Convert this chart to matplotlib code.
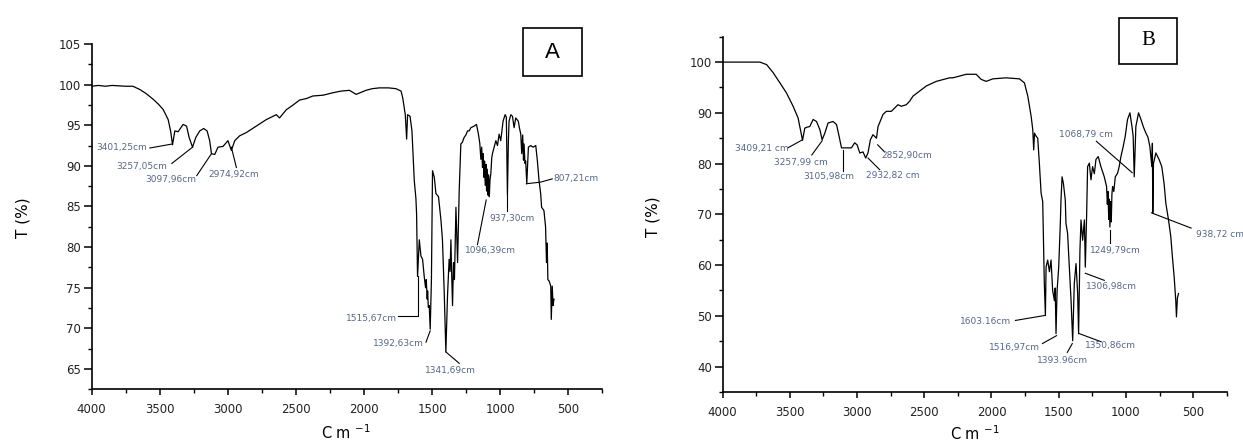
# FT-IR spectra, panels A and B
import numpy as np
import matplotlib.pyplot as plt
from matplotlib.ticker import MultipleLocator
from matplotlib.patches import Rectangle

# ---- panel A spectrum (wavenumber cm-1, transmittance %) ----
wn_a = [4000, 3950, 3900, 3850, 3800, 3750, 3697, 3646, 3600, 3548, 3510, 3475, 3438, 3420, 3406,
        3389, 3365, 3328, 3303, 3284, 3259, 3235, 3206, 3177, 3152, 3133, 3120, 3096, 3072, 3035,
        2999, 2974, 2949, 2913, 2864, 2790, 2717, 2644, 2620, 2571, 2520, 2473, 2420, 2376, 2300,
        2254, 2229, 2170, 2107, 2058, 1985, 1940, 1887, 1820, 1765, 1728, 1716, 1697, 1687, 1680,
        1662, 1648, 1631, 1619, 1614, 1607, 1594, 1582, 1570, 1558, 1548, 1543, 1536, 1533, 1528,
        1521, 1514, 1505, 1497, 1484, 1472, 1453, 1435, 1424, 1411, 1399, 1387, 1375, 1368, 1362,
        1356, 1350, 1343, 1336, 1330, 1325, 1313, 1306, 1301, 1289, 1278, 1265, 1252, 1240, 1228,
        1215, 1191, 1174, 1160, 1150, 1142, 1136, 1130, 1125, 1120, 1115, 1110, 1105, 1100, 1095,
        1090, 1085, 1080, 1075, 1069, 1062, 1057, 1032, 1020, 1008, 996, 979, 964, 955, 947,
        940, 935, 922, 910, 898, 886, 867, 858, 849, 842, 835, 829, 825, 818, 813, 805, 793,
        776, 759, 739, 727, 715, 703, 696, 679, 667, 660, 655, 650, 640, 629, 625, 618, 612, 605]
t_a = [99.8, 99.9, 99.8, 99.9, 99.85, 99.8, 99.8, 99.4, 98.9, 98.2, 97.6, 96.95, 95.7, 94.3, 92.6,
       94.3, 94.2, 95.1, 94.9, 93.5, 92.3, 93.5, 94.3, 94.6, 94.3, 93.1, 91.5, 91.4, 92.3, 92.4,
       93.1, 91.9, 93.1, 93.7, 94.1, 94.9, 95.7, 96.3, 95.9, 96.9, 97.5, 98.1, 98.3, 98.6, 98.7,
       98.9, 99.0, 99.2, 99.3, 98.8, 99.3, 99.5, 99.6, 99.6, 99.5, 99.2, 98.4, 96.3, 93.3, 96.3,
       96.1, 94.3, 88.2, 86.0, 84.1, 76.4, 80.9, 78.9, 78.5, 76.4, 75.0, 76.0, 73.6, 74.6, 72.6,
       72.8, 69.9, 76.0, 89.4, 88.6, 86.6, 86.2, 83.3, 80.9, 74.4, 67.1, 74.0, 78.5, 77.0, 80.9,
       76.5, 72.8, 78.1, 76.0, 80.9, 84.9, 78.1, 83.4, 87.0, 92.7, 92.9, 93.5, 93.8, 94.3, 94.3,
       94.7, 94.9, 95.1, 93.9, 92.8, 90.8, 92.3, 89.8, 91.5, 88.6, 90.6, 87.6, 90.2, 86.9, 89.6,
       86.4, 88.9, 86.2, 88.3, 89.0, 91.0, 91.5, 93.1, 92.5, 93.9, 93.1, 95.5, 96.3, 96.0, 86.4,
       93.0, 95.5, 96.3, 96.1, 94.7, 95.9, 95.5, 94.6, 93.9, 91.5, 93.8, 90.7, 92.7, 90.3, 90.6, 87.8, 92.3,
       92.5, 92.3, 92.5, 90.6, 88.2, 86.6, 84.9, 84.5, 82.5, 78.1, 80.5, 76.0, 75.8, 75.2, 71.1, 75.2, 72.8, 73.6]

# ---- panel B spectrum ----
wn_b = [4000, 3900, 3800, 3723, 3673, 3624, 3574, 3525, 3476, 3439, 3426, 3406, 3389, 3370, 3352,
        3327, 3302, 3277, 3260, 3240, 3216, 3179, 3153, 3134, 3116, 3079, 3042, 3018, 3000, 2980,
        2956, 2936, 2919, 2901, 2882, 2856, 2844, 2807, 2782, 2745, 2696, 2671, 2634, 2609, 2584,
        2535, 2485, 2411, 2312, 2287, 2188, 2114, 2077, 2040, 1990, 1891, 1792, 1755, 1730, 1705,
        1693, 1686, 1680, 1668, 1656, 1644, 1631, 1619, 1612, 1607, 1599, 1594, 1582, 1569, 1557,
        1545, 1532, 1526, 1520, 1512, 1500, 1488, 1483, 1475, 1465, 1451, 1446, 1434, 1421, 1408,
        1396, 1384, 1371, 1359, 1352, 1342, 1334, 1322, 1309, 1302, 1292, 1285, 1272, 1260, 1248,
        1235, 1223, 1206, 1186, 1161, 1144, 1138, 1133, 1128, 1124, 1119, 1114, 1109, 1104, 1099,
        1090, 1079, 1062, 1050, 1037, 1020, 1005, 988, 970, 955, 946, 938, 926, 906, 888, 871,
        851, 836, 822, 807, 803, 800, 795, 777, 753, 733, 716, 703, 683, 666, 654, 641, 629,
        624, 617, 609]
t_b = [100, 100, 100, 100, 99.5, 97.9, 95.9, 93.9, 91.3, 89.0, 87.3, 84.6, 87.0, 87.2, 87.3,
       88.7, 88.3, 86.7, 84.7, 86.0, 88.0, 88.3, 87.7, 85.4, 83.1, 83.1, 83.1, 84.1, 83.7, 82.1,
       82.3, 81.1, 82.1, 84.7, 85.7, 85.0, 87.3, 89.7, 90.3, 90.3, 91.6, 91.3, 91.6, 92.3, 93.3,
       94.3, 95.3, 96.2, 96.9, 96.9, 97.6, 97.6, 96.6, 96.2, 96.7, 96.9, 96.7, 95.9, 93.3, 89.3,
       86.7, 82.7, 86.0, 85.4, 85.0, 80.1, 74.2, 72.5, 63.6, 56.4, 50.1, 59.6, 61.0, 58.7, 61.0,
       55.0, 53.0, 55.5, 46.5, 55.0, 59.6, 68.2, 72.8, 77.4, 76.1, 72.8, 68.2, 66.3, 59.6, 53.0,
       45.1, 56.4, 60.3, 54.4, 46.5, 62.9, 68.9, 64.9, 68.9, 59.6, 70.2, 79.4, 80.1, 76.8, 79.4,
       78.0, 80.8, 81.4, 79.4, 77.4, 75.5, 72.0, 74.5, 69.0, 73.0, 67.5, 72.5, 68.5, 74.0, 75.5,
       74.5, 77.4, 78.1, 79.4, 81.4, 83.4, 85.4, 88.7, 90.0, 87.3, 85.4, 77.4, 87.3, 90.0, 88.7, 87.3,
       86.0, 85.2, 83.4, 79.4, 84.0, 70.3, 80.0, 82.1, 80.8, 79.4, 76.1, 72.2, 68.9, 65.6, 61.6, 57.7, 53.0,
       49.8, 53.5, 54.4]

# peak labels: text, text anchor (x, y), leader line points
labels_a = [
    ('3401,25cm', (3963, 92.2), [(3572, 92.2), (3406, 92.7)]),
    ('3257,05cm', (3816, 89.95), [(3411, 90.3), (3259, 92.3)]),
    ('3097,96cm', (3609, 88.3), [(3228, 88.8), (3120, 91.5)]),
    ('2974,92cm', (3145, 88.9), [(2937, 89.8), (2974, 92.3)]),
    ('807,21cm', (612, 88.5), [(808, 87.8), (703, 88.0), (618, 88.4)]),
    ('937,30cm', (1081, 83.5), [(947, 84.4), (947, 86.4)]),
    ('1096,39cm', (1257, 79.55), [(1167, 80.3), (1103, 85.8)]),
    ('1515,67cm', (2136, 71.2), [(1753, 71.5), (1607, 71.5), (1607, 76.4)]),
    ('1392,63cm', (1931, 68.1), [(1545, 68.3), (1514, 69.7)]),
    ('1341,69cm', (1550, 64.8), [(1399, 67.1), (1301, 65.7)]),
]
labels_b = [
    ('3409,21 cm', (3909, 82.9), [(3515, 83.1), (3406, 84.7)]),
    ('3257,99 cm', (3619, 80.2), [(3337, 81.7), (3260, 84.5)]),
    ('3105,98cm', (3401, 77.4), [(3107, 78.6), (3107, 82.7)]),
    ('2932,82 cm', (2931, 77.6), [(2919, 81.1), (2832, 78.8)]),
    ('2852,90cm', (2819, 81.5), [(2847, 83.7), (2795, 82.3)]),
    ('1068,79 cm', (1495, 85.7), [(1220, 84.4), (953, 78.2)]),
    ('938,72 cm', (480, 66.05), [(810, 70.3), (515, 67.3)]),
    ('1249,79cm', (1267, 62.8), [(1116, 64.3), (1116, 66.9)]),
    ('1306,98cm', (1297, 55.7), [(1302, 58.4), (1161, 57.0)]),
    ('1603.16cm', (2238, 48.8), [(1822, 49.1), (1599, 50.1)]),
    ('1516,97cm', (2020, 43.7), [(1621, 44.55), (1516, 46.1)]),
    ('1393.96cm', (1664, 41.2), [(1436, 42.8), (1399, 44.55)]),
    ('1350,86cm', (1304, 44.2), [(1347, 46.5), (1184, 44.9)]),
]

plt.rcParams['font.family'] = 'DejaVu Sans'
fig = plt.figure(figsize=(12.43, 4.44), dpi=100)


def draw_panel(rect, wn, t, labels, ylim, ymajor, yminor):
    ax = fig.add_axes(rect)
    ax.plot(wn, t, color='black', lw=0.9)
    ax.set_xlim(4000, 250)
    ax.set_ylim(*ylim)
    ax.spines['top'].set_visible(False)
    ax.spines['right'].set_visible(False)
    for s in ('left', 'bottom'):
        ax.spines[s].set_linewidth(1.2)
    ax.xaxis.set_major_locator(MultipleLocator(500))
    ax.xaxis.set_minor_locator(MultipleLocator(250))
    ax.yaxis.set_major_locator(MultipleLocator(ymajor))
    ax.yaxis.set_minor_locator(MultipleLocator(yminor))
    ax.tick_params(axis='x', which='major', length=4, width=1.1, pad=6,
                   labelsize=8.5, labelcolor='#222222')
    ax.tick_params(axis='x', which='minor', length=3, width=1.0)
    ax.tick_params(axis='y', which='major', length=5.5, width=1.1, pad=2,
                   labelsize=8.5, labelcolor='#222222')
    ax.tick_params(axis='y', which='minor', length=3, width=1.0)
    for txt, (tx, ty), pts in labels:
        xs = [p[0] for p in pts]
        ys = [p[1] for p in pts]
        ax.plot(xs, ys, color='black', lw=0.8)
        ax.text(tx, ty, txt, fontsize=6.5, color='#56678a', ha='left', va='center')
    return ax


ax_a = draw_panel([0.0737, 0.1232, 0.4109, 0.7777], wn_a, t_a, labels_a, (62.5, 105), 5, 2.5)
ax_b = draw_panel([0.5814, 0.1171, 0.4055, 0.8002], wn_b, t_b, labels_b, (35, 105), 10, 5)

# axis titles
fig.text(0.0185, 0.509, 'T (%)', rotation=90, fontsize=11, ha='center', va='center')
fig.text(0.525, 0.511, 'T (%)', rotation=90, fontsize=11, ha='center', va='center')
fig.text(0.278, 0.004, 'C m $^{-1}$', fontsize=10.5, ha='center', va='bottom')
fig.text(0.784, 0.002, 'C m $^{-1}$', fontsize=10.5, ha='center', va='bottom')

# panel letters in boxes
fig.patches.append(Rectangle((0.4208, 0.8288), 0.0474, 0.1081, transform=fig.transFigure,
                             fill=False, edgecolor='black', lw=1.2))
fig.text(0.4445, 0.8828, 'A', fontsize=16, ha='center', va='center', family='Liberation Sans')
fig.patches.append(Rectangle((0.9002, 0.8559), 0.0467, 0.1036, transform=fig.transFigure,
                             fill=False, edgecolor='black', lw=1.2))
fig.text(0.9235, 0.9077, 'B', fontsize=15, ha='center', va='center', family='Liberation Serif')

fig.savefig('out.png', dpi=100)
